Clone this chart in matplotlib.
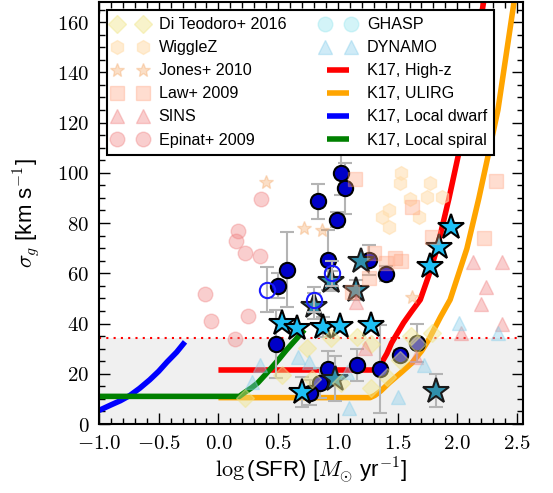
import matplotlib
matplotlib.use('Agg')
import matplotlib.pyplot as plt
from matplotlib.ticker import MultipleLocator, FuncFormatter
from matplotlib.legend_handler import HandlerLine2D

# ---------------- data ----------------
# literature samples (semi-transparent markers)
dit_x = [0.22, 0.53, 0.74, 0.78, 0.94, 1.03, 1.16, 1.28, 1.28, 1.41, 1.52, 1.61, 1.79, 1.66]
dit_y = [10.4, 19.6, 30.3, 18.0, 34.3, 16.4, 34.7, 32.0, 14.2, 18.6, 25.5, 35.0, 36.3, 32.0]

wig_x = [1.525, 1.52, 1.775, 1.60, 1.75, 1.87, 1.425, 1.37, 1.68, 1.425]
wig_y = [99.8, 96.0, 96.0, 89.4, 90.2, 90.2, 85.0, 82.6, 82.6, 78.6]

jon_x = [0.40, 0.72, 0.87, 1.62]
jon_y = [96.2, 78.2, 77.4, 50.7]

law_x = [1.14, 2.32, 1.62, 1.79, 2.22, 1.30, 1.48, 1.525, 1.40, 1.26, 1.12]
law_y = [97.4, 96.6, 86.2, 74.6, 74.2, 68.2, 66.2, 65.0, 64.2, 58.3, 52.7]

sins_x = [2.13, 2.37, 2.24, 2.20, 2.37, 2.03, 1.65, 1.23, 1.15]
sins_y = [64.6, 64.6, 54.7, 47.9, 39.9, 36.3, 26.7, 30.3, 48.7]

epi_x = [0.36, 0.16, 0.15, 0.22, 0.35, -0.11, -0.06, 0.25, 0.14]
epi_y = [89.4, 77.0, 73.0, 68.2, 67.0, 51.9, 41.1, 43.1, 33.9]

ghasp_x = []
ghasp_y = []

dyn_x = [0.35, 0.28, 0.67, 0.76, 1.09, 1.08, 1.50, 1.72, 2.01, 2.34]
dyn_y = [23.5, 16.8, 26.7, 24.7, 6.4, 20.7, 10.8, 23.5, 40.3, 36.3]

# this work: filled circles, open circles, stars (with errors)
circ_x = [1.03, 1.06, 0.83, 0.99, 0.92, 0.575, 0.50, 1.26, 1.40, 0.48, 0.92, 0.85, 0.77, 1.16, 1.35, 1.52, 1.66]
circ_y = [100.0, 93.8, 88.6, 81.4, 65.4, 61.5, 55.0, 65.4, 59.9, 31.9, 22.0, 16.4, 12.4, 23.5, 22.0, 27.5, 32.3]
circ_err = [9, 10, 7, 3, 12, 15, 5, 6, 3, 13.5, 7, 6, 5, 6.5, 17.5, 2, 7.5]

open_x = [0.41, 0.95, 0.80]
open_y = [53.5, 60.0, 49.5]
open_err = [9, 5, 5]

star_x = [0.53, 0.66, 0.875, 1.02, 1.28, 1.95, 1.85, 1.775, 0.70]
star_y = [40.3, 38.3, 38.7, 39.1, 39.5, 78.6, 70.6, 63.0, 12.8]
star_err = [0, 0, 4, 0, 0, 0, 0, 0, 6]

dstar_x = [1.19, 1.15, 0.80, 0.975, 1.82, 0.94]
dstar_y = [65.0, 53.5, 47.0, 18.0, 13.2, 57.0]
dstar_err = [0, 4, 5, 9, 6.6, 4]

# K17 model curves
red_x = [0.0, 1.30, 1.34, 1.37, 1.41, 1.45, 1.50, 1.55, 1.62, 1.69, 1.76, 1.83, 1.93, 2.02, 2.22]
red_y = [21.5, 21.5, 22.6, 24.7, 28.0, 32.3, 36.3, 40.3, 45.0, 49.5, 59.0, 69.8, 89.8, 109.5, 168.0]

orange_x = [0.0, 1.27, 1.31, 1.36, 1.43, 1.53, 1.62, 1.70, 1.76, 1.86, 1.94, 2.08, 2.18, 2.27, 2.34, 2.475]
orange_y = [10.5, 10.5, 11.4, 13.2, 16.4, 20.5, 24.3, 29.0, 33.5, 42.7, 49.5, 69.8, 89.8, 109.5, 125.0, 168.0]

dwarf_x = [-1.0, -0.9, -0.82, -0.74, -0.66, -0.575, -0.50, -0.43, -0.35, -0.28]
dwarf_y = [5.4, 7.6, 9.3, 11.4, 14.2, 17.6, 21.0, 24.7, 28.6, 32.7]

spiral_x = [-1.0, 0.175, 0.23, 0.28, 0.33, 0.39, 0.45, 0.51, 0.57, 0.645, 0.72]
spiral_y = [11.0, 11.0, 12.9, 14.5, 16.4, 19.5, 22.7, 26.0, 29.5, 33.5, 37.5]

shade_top = 34.3

# ---------------- plotting ----------------
plt.rcParams['mathtext.fontset'] = 'cm'
plt.rcParams['font.family'] = ['Liberation Sans', 'DejaVu Sans']

fig = plt.figure(figsize=(5.53, 4.93), dpi=100)
ax = fig.add_axes([99 / 553, 69 / 493, 424 / 553, 422 / 493])

ax.axhspan(0, shade_top, color='#f0f0f0', lw=0, zorder=0)
ax.axhline(shade_top, color='red', ls=(0, (1, 2.5)), lw=1.5, zorder=1)

lit_kw = dict(ls='none', zorder=4)
h1, = ax.plot(dit_x, dit_y, marker='D', ms=9, color='#f0e68c', alpha=0.45, label='Di Teodoro+ 2016', **lit_kw)
h2, = ax.plot(wig_x, wig_y, marker='h', ms=10, color='#ffdead', alpha=0.55, label='WiggleZ', **lit_kw)
h3, = ax.plot(jon_x, jon_y, marker='*', ms=10, color='#f4a460', alpha=0.35, label='Jones+ 2010', **lit_kw)
h4, = ax.plot(law_x, law_y, marker='s', ms=10, color='#ffa07a', alpha=0.35, label='Law+ 2009', **lit_kw)
h5, = ax.plot(sins_x, sins_y, marker='^', ms=10.5, color='#f08080', alpha=0.38, label='SINS', **lit_kw)
h6, = ax.plot(epi_x, epi_y, marker='o', ms=10.5, color='#f08080', alpha=0.38, label='Epinat+ 2009', **lit_kw)
h7, = ax.plot(ghasp_x, ghasp_y, marker='o', ms=10.5, color='#9fe8f0', alpha=0.45, label='GHASP', **lit_kw)
h8, = ax.plot(dyn_x, dyn_y, marker='^', ms=10.5, color='#87ceeb', alpha=0.4, label='DYNAMO', **lit_kw)

l1, = ax.plot(red_x, red_y, color='red', lw=4, zorder=2, label='K17, High-z', solid_capstyle='butt')
l2, = ax.plot(orange_x, orange_y, color='orange', lw=4, zorder=2, label='K17, ULIRG', solid_capstyle='butt')
l3, = ax.plot(dwarf_x, dwarf_y, color='blue', lw=4, zorder=2, label='K17, Local dwarf', solid_capstyle='butt')
l4, = ax.plot(spiral_x, spiral_y, color='green', lw=4, zorder=2, label='K17, Local spiral', solid_capstyle='butt')

err_kw = dict(ecolor='#b4b4b4', elinewidth=1.5, capsize=5, capthick=1.5, ls='none')
ax.errorbar(circ_x, circ_y, yerr=circ_err, fmt='o', ms=11, mfc='#0000c8', mec='black', mew=1.5,
            zorder=3, **err_kw)
ax.errorbar(open_x, open_y, yerr=open_err, fmt='o', ms=11, mfc='none', mec='#1a1aff', mew=1.5,
            zorder=3.6, **err_kw)
ax.errorbar(dstar_x, dstar_y, yerr=dstar_err, fmt='*', ms=19, mfc='#2f8fab', mec='#1a1a1a', mew=1.5,
            zorder=3.2, **err_kw)
ax.errorbar(star_x, star_y, yerr=star_err, fmt='*', ms=19, mfc='#1ec0f5', mec='black', mew=1.5,
            zorder=3.3, **err_kw)

ax.set_xlim(-1.0, 2.55)
ax.set_ylim(0, 168)

ax.xaxis.set_major_locator(MultipleLocator(0.5))
ax.xaxis.set_minor_locator(MultipleLocator(0.1))
ax.yaxis.set_major_locator(MultipleLocator(20))
ax.yaxis.set_minor_locator(MultipleLocator(5))
ax.xaxis.set_major_formatter(FuncFormatter(lambda v, p: '$%.1f$' % v))
ax.yaxis.set_major_formatter(FuncFormatter(lambda v, p: '$%d$' % round(v)))
ax.tick_params(which='both', direction='in', top=True, right=True, labelsize=15)
ax.tick_params(which='major', length=8, width=1, pad=7)
ax.tick_params(which='minor', length=4, width=1)
for s in ax.spines.values():
    s.set_linewidth(1.5)

ax.set_xlabel(r'$\log$(SFR) [$M_{\odot}$ yr$^{-1}$]', fontsize=16, labelpad=2)
ax.set_ylabel(r'$\sigma_g$ [km s$^{-1}$]', fontsize=16)
ax.yaxis.set_label_coords(-0.135, 0.5)

mk_handler = HandlerLine2D(marker_pad=0.15, numpoints=2)
leg = ax.legend(handles=[h1, h2, h3, h4, h5, h6, h7, h8, l1, l2, l3, l4],
                handler_map={h: mk_handler for h in [h1, h2, h3, h4, h5, h6, h7, h8]},
                ncol=2, numpoints=2, loc='upper left', bbox_to_anchor=(0.019, 0.981),
                borderaxespad=0, fontsize=11.6, handlelength=1.95, handletextpad=0.8,
                columnspacing=2.25, labelspacing=0.5, borderpad=0.45,
                fancybox=False, framealpha=1, edgecolor='black')
leg.get_frame().set_linewidth(1.5)
leg.set_zorder(10)

fig.savefig('out.png', dpi=100)
